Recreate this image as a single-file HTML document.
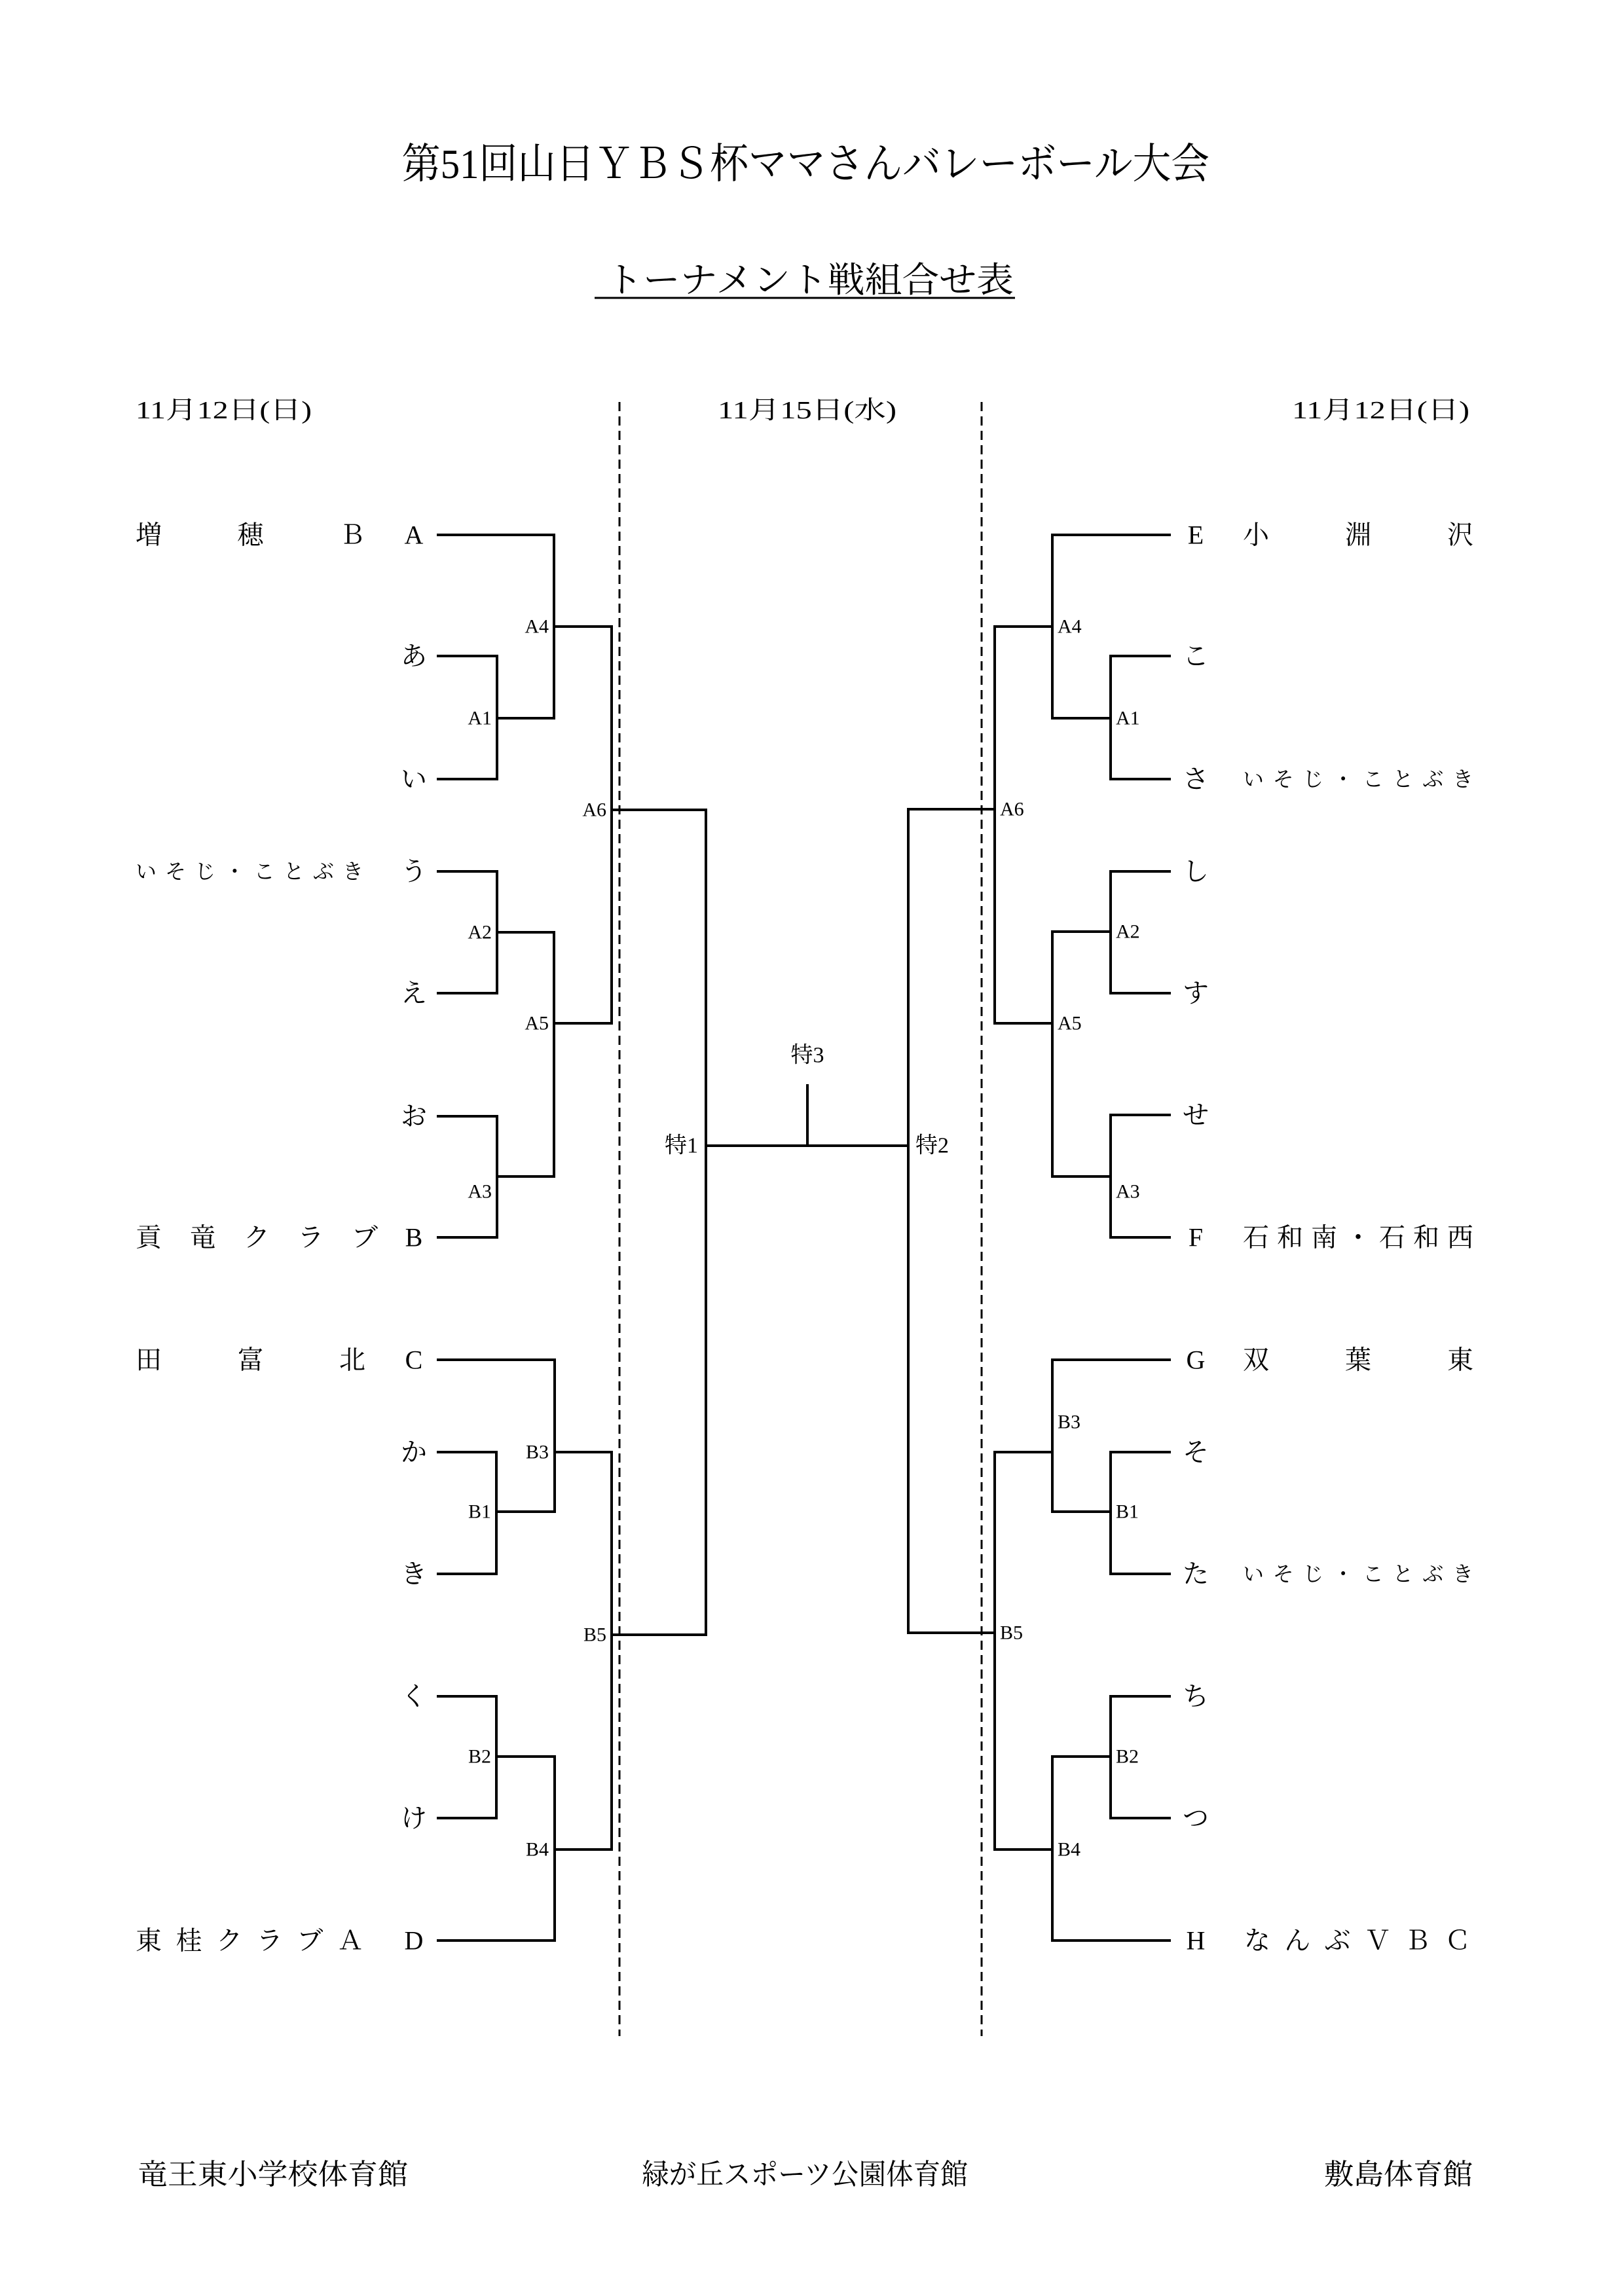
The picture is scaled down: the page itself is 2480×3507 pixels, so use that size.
<!DOCTYPE html>
<html><head><meta charset="utf-8"><style>
html,body{margin:0;padding:0;background:#fff;}
svg{display:block;}
text{font-family:"Liberation Serif","Noto Serif CJK JP","Noto Serif CJK SC",serif;fill:#000;}
</style></head><body>
<svg width="2480" height="3507" viewBox="0 0 2480 3507" xmlns="http://www.w3.org/2000/svg">
<rect width="2480" height="3507" fill="#fff"/>
<!-- titles -->
<text x="614" y="272" font-size="64" textLength="1233" lengthAdjust="spacingAndGlyphs">第51回山日ＹＢＳ杯ママさんバレーボール大会</text>
<text x="925" y="446" font-size="54" textLength="623" lengthAdjust="spacingAndGlyphs">トーナメント戦組合せ表</text>
<line x1="908" y1="455" x2="1550" y2="455" stroke="#000" stroke-width="3"/>
<!-- dates -->
<text x="207" y="639" font-size="38" textLength="269" lengthAdjust="spacingAndGlyphs">11月12日(日)</text>
<text x="1096" y="639" font-size="38" textLength="273" lengthAdjust="spacingAndGlyphs">11月15日(水)</text>
<text x="1973" y="639" font-size="38" textLength="271" lengthAdjust="spacingAndGlyphs">11月12日(日)</text>
<!-- dashed -->
<line x1="946" y1="614" x2="946" y2="3110" stroke="#000" stroke-width="3" stroke-dasharray="14 8"/>
<line x1="1499" y1="614" x2="1499" y2="3110" stroke="#000" stroke-width="3" stroke-dasharray="14 8"/>
<g fill="none" stroke="#000" stroke-width="4" stroke-linecap="square" stroke-linejoin="miter">
<!-- left A -->
<polyline points="669,817 846,817 846,1097 759,1097"/>
<polyline points="669,1002 759,1002 759,1190 669,1190"/>
<polyline points="846,957 934,957 934,1563 846,1563"/>
<polyline points="934,1237 1078,1237"/>
<polyline points="669,1331 759,1331 759,1517 669,1517"/>
<polyline points="759,1424 846,1424 846,1797 759,1797"/>
<polyline points="669,1705 759,1705 759,1890 669,1890"/>
<!-- left B -->
<polyline points="669,2077 847,2077 847,2309 758,2309"/>
<polyline points="669,2218 758,2218 758,2404 669,2404"/>
<polyline points="847,2218 934,2218 934,2825 847,2825"/>
<polyline points="669,2591 758,2591 758,2777 669,2777"/>
<polyline points="758,2683 847,2683 847,2964 669,2964"/>
<polyline points="934,2497 1078,2497"/>
<!-- center -->
<polyline points="1078,1237 1078,2497"/>
<polyline points="1078,1750 1387,1750"/>
<polyline points="1233,1658 1233,1750"/>
<polyline points="1387,1236 1387,2494"/>
<!-- right A -->
<polyline points="1786,817 1607,817 1607,1097 1696,1097"/>
<polyline points="1786,1002 1696,1002 1696,1190 1786,1190"/>
<polyline points="1607,957 1519,957 1519,1563 1607,1563"/>
<polyline points="1519,1236 1387,1236"/>
<polyline points="1786,1331 1696,1331 1696,1517 1786,1517"/>
<polyline points="1696,1423 1607,1423 1607,1797 1696,1797"/>
<polyline points="1786,1703 1696,1703 1696,1890 1786,1890"/>
<!-- right B -->
<polyline points="1786,2077 1607,2077 1607,2309 1696,2309"/>
<polyline points="1786,2218 1696,2218 1696,2404 1786,2404"/>
<polyline points="1607,2218 1519,2218 1519,2825 1607,2825"/>
<polyline points="1786,2591 1696,2591 1696,2777 1786,2777"/>
<polyline points="1696,2683 1607,2683 1607,2964 1786,2964"/>
<polyline points="1519,2494 1387,2494"/>
</g>
<!-- match labels -->
<g font-size="30" dominant-baseline="central">
<g text-anchor="end">
<text x="838" y="957">A4</text>
<text x="751" y="1097">A1</text>
<text x="926" y="1237">A6</text>
<text x="751" y="1424">A2</text>
<text x="838" y="1563">A5</text>
<text x="751" y="1820">A3</text>
<text x="838" y="2218">B3</text>
<text x="750" y="2309">B1</text>
<text x="926" y="2497">B5</text>
<text x="750" y="2683">B2</text>
<text x="838" y="2825">B4</text>
<text x="1066" y="1750" font-size="34">特1</text>
</g>
<text x="1615" y="957">A4</text>
<text x="1704" y="1097">A1</text>
<text x="1527" y="1236">A6</text>
<text x="1704" y="1423">A2</text>
<text x="1615" y="1563">A5</text>
<text x="1704" y="1820">A3</text>
<text x="1615" y="2172">B3</text>
<text x="1704" y="2309">B1</text>
<text x="1527" y="2494">B5</text>
<text x="1704" y="2683">B2</text>
<text x="1615" y="2825">B4</text>
<text x="1398" y="1750" font-size="34">特2</text>
<text x="1233" y="1612" font-size="34" text-anchor="middle">特3</text>
</g>
<!-- leaf letters -->
<g font-size="40" dominant-baseline="central" text-anchor="middle">
<text x="632" y="817">A</text><text x="632" y="1002">あ</text><text x="632" y="1190">い</text>
<text x="632" y="1331">う</text><text x="632" y="1517">え</text><text x="632" y="1705">お</text>
<text x="632" y="1890">B</text><text x="632" y="2077">C</text><text x="632" y="2218">か</text>
<text x="632" y="2404">き</text><text x="632" y="2591">く</text><text x="632" y="2777">け</text>
<text x="632" y="2964">D</text>
<text x="1826" y="817">E</text><text x="1826" y="1002">こ</text><text x="1826" y="1190">さ</text>
<text x="1826" y="1331">し</text><text x="1826" y="1517">す</text><text x="1826" y="1703">せ</text>
<text x="1826" y="1890">F</text><text x="1826" y="2077">G</text><text x="1826" y="2218">そ</text>
<text x="1826" y="2404">た</text><text x="1826" y="2591">ち</text><text x="1826" y="2777">つ</text>
<text x="1826" y="2964">H</text>
</g>
<!-- team names -->
<g font-size="40" dominant-baseline="central">
<text x="207" y="817" textLength="351" lengthAdjust="spacing">増穂Ｂ</text>
<text x="207" y="1331" font-size="32" textLength="348" lengthAdjust="spacing">いそじ・ことぶき</text>
<text x="207" y="1890" textLength="370" lengthAdjust="spacing">貢竜クラブ</text>
<text x="207" y="2077" textLength="351" lengthAdjust="spacing">田富北</text>
<text x="207" y="2964" textLength="348" lengthAdjust="spacing">東桂クラブＡ</text>
<text x="1898" y="817" textLength="352" lengthAdjust="spacing">小淵沢</text>
<text x="1898" y="1190" font-size="32" textLength="352" lengthAdjust="spacing">いそじ・ことぶき</text>
<text x="1898" y="1890" textLength="352" lengthAdjust="spacing">石和南・石和西</text>
<text x="1898" y="2077" textLength="352" lengthAdjust="spacing">双葉東</text>
<text x="1898" y="2404" font-size="32" textLength="352" lengthAdjust="spacing">いそじ・ことぶき</text>
<text x="1900" y="2964" textLength="346" lengthAdjust="spacing">なんぶＶＢＣ</text>
</g>
<!-- footer -->
<text x="210" y="3336" font-size="44" textLength="413" lengthAdjust="spacingAndGlyphs">竜王東小学校体育館</text>
<text x="980" y="3336" font-size="44" textLength="498" lengthAdjust="spacingAndGlyphs">緑が丘スポーツ公園体育館</text>
<text x="2022" y="3336" font-size="44" textLength="227" lengthAdjust="spacingAndGlyphs">敷島体育館</text>
</svg>
</body></html>
